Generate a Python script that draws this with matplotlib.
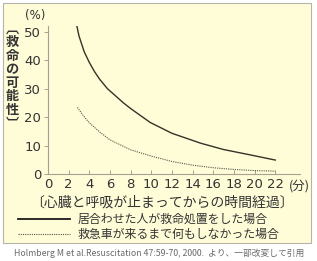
import matplotlib
matplotlib.use("Agg")
import matplotlib.pyplot as plt
from matplotlib.patches import Rectangle
from matplotlib.lines import Line2D

plt.rcParams['font.family'] = ['Noto Sans CJK JP', 'DejaVu Sans']

# 居合わせた人が救命処置をした場合
t_help = [2.7, 3.0, 3.5, 4.0, 4.5, 5, 5.75, 7.3, 8, 9.9, 12, 14.8, 17, 19.6, 22]
p_help = [53.6, 48.5, 43.0, 39.2, 36.0, 33.3, 30.0, 25.0, 23.0, 18.1, 14.3, 10.8, 8.6, 6.7, 4.9]
# 救急車が来るまで何もしなかった場合
t_none = [2.85, 3.4, 4, 5, 6, 8, 10, 12, 14, 16, 18, 20, 22]
p_none = [23.4, 20.6, 18.0, 14.8, 12.0, 8.5, 6.3, 4.4, 3.1, 2.2, 1.6, 1.2, 1.0]

xticks = list(range(0, 23, 2))
yticks = [0, 10, 20, 30, 40, 50]
legend_labels = ["居合わせた人が救命処置をした場合", "救急車が来るまで何もしなかった場合"]
xlabel = "〔心臓と呼吸が止まってからの時間経過〕"
ylabel = "︹救命の可能性︺"
caption = "Holmberg M et al.Resuscitation 47:59-70, 2000.  より、一部改変して引用"

W, H = 317, 261
txt = "#333333"
axcol = "#a8a090"

fig = plt.figure(figsize=(W / 100, H / 100), dpi=100)


def fx(px):
    return px / W


def fy(py):
    return 1 - py / H


# 背景パネル
fig.patches.append(Rectangle((fx(3), fy(243)), fx(308), (240) / H,
                             transform=fig.transFigure, facecolor="#fffcd8",
                             edgecolor="#b4b4a8", linewidth=0.8, zorder=-10))

ax = fig.add_axes([fx(48), fy(174), fx(252), (174 - 26) / H])
ax.set_facecolor("none")
ax.set_zorder(1)
ax.plot(t_help, p_help, color="#333328", linewidth=1.0)
ax.plot(t_none, p_none, color="#55554a", linewidth=0.8, linestyle=(0, (1, 1)))
ax.set_xlim(0, 24.4)
ax.set_ylim(0, 52)
ax.set_xticks(xticks)
ax.set_yticks(yticks)
for s in ["top", "right"]:
    ax.spines[s].set_visible(False)
for s in ["left", "bottom"]:
    ax.spines[s].set_color(axcol)
    ax.spines[s].set_linewidth(0.8)
ax.tick_params(axis="x", direction="in", length=3, width=0.7, color=axcol,
               labelsize=9.5, labelcolor=txt, pad=3)
ax.tick_params(axis="y", direction="out", length=3, width=0.7, color=axcol,
               labelsize=9.5, labelcolor=txt, pad=2)
for lb in ax.get_xticklabels() + ax.get_yticklabels():
    lb.set_family("DejaVu Sans")

fig.text(fx(289), fy(186), "(分)", fontsize=9, color=txt, va="center", ha="left")
fig.text(fx(35), fy(15), "(%)", family="DejaVu Sans", fontsize=8.5, color=txt,
         va="center", ha="center")
fig.text(fx(162), fy(202), xlabel, fontsize=10, color=txt, va="center", ha="center")

# 縦書きの軸ラベル
fig.text(fx(12), fy(76), "\n".join(ylabel), fontsize=9.5, color=txt, va="center",
         ha="center", linespacing=0.95, fontweight="bold")

# 凡例
fig.lines.append(Line2D([fx(18), fx(70)], [fy(219), fy(219)], transform=fig.transFigure,
                        color="#1a1a1a", linewidth=1.3))
fig.lines.append(Line2D([fx(18), fx(70)], [fy(234), fy(234)], transform=fig.transFigure,
                        color="#55554a", linewidth=0.8, linestyle=(0, (1, 1))))
fig.text(fx(78), fy(219), legend_labels[0], fontsize=8.6, color=txt, va="center", ha="left")
fig.text(fx(78), fy(234), legend_labels[1], fontsize=8.6, color=txt, va="center", ha="left")

fig.text(fx(159), fy(253), caption, fontsize=6.3, color="#6a6a6a", va="center", ha="center")

fig.savefig("out.png", dpi=100)
